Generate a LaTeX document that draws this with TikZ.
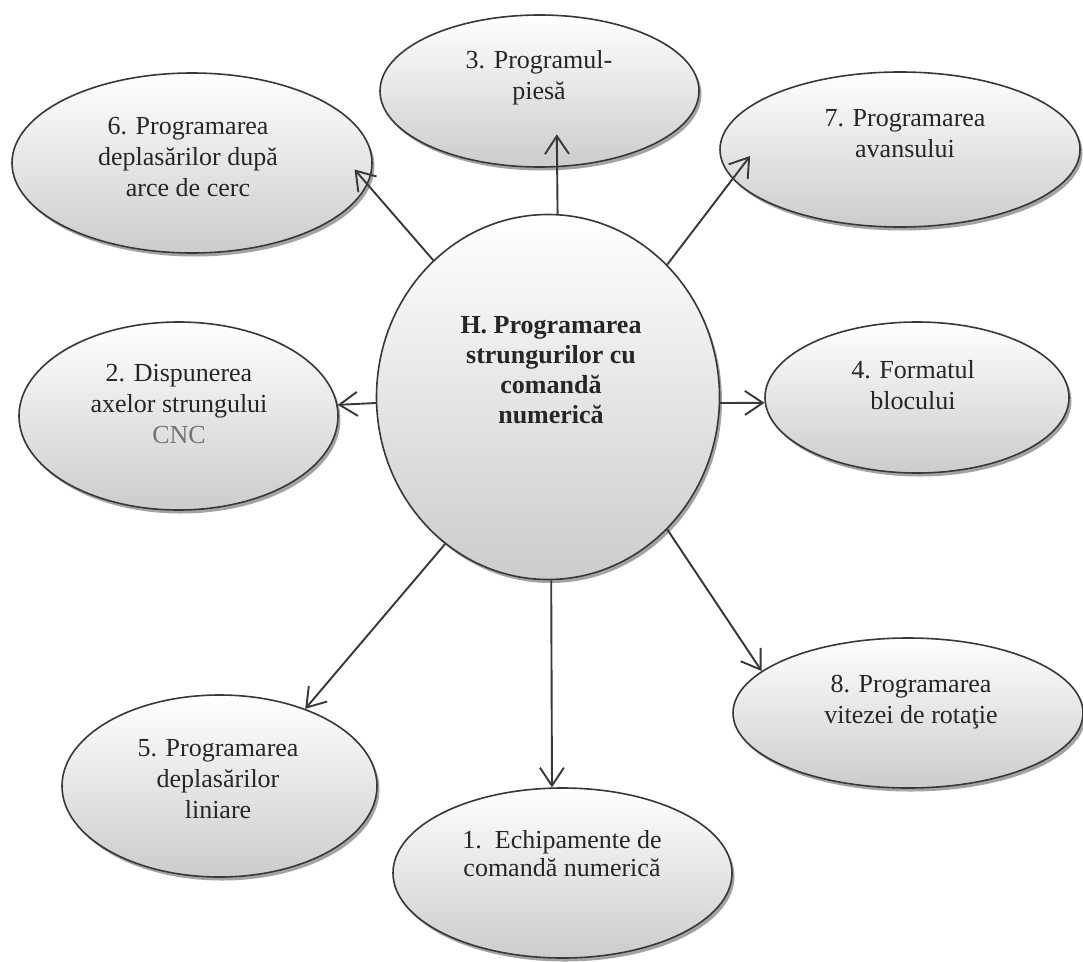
\documentclass[tikz,border=0pt]{standalone}
\usepackage{fontspec}
\setmainfont{Liberation Serif}
\usetikzlibrary{arrows.meta,shadows,shapes.geometric}
\begin{document}
\begin{tikzpicture}[x=1pt,y=-1pt,
  bub/.style={ellipse, draw=black!78, line width=1.6pt, top color=white, bottom color=black!20,
    drop shadow={shadow xshift=2.5pt, shadow yshift=-3.5pt, fill=black!60, opacity=0.6},
    inner sep=0pt},
  txt/.style={align=center, text=black!85, font=\fontsize{26}{31}\selectfont, inner sep=0pt},
  arr/.style={draw=black!78, line width=1.9pt, -{Straight Barb[length=18pt,width=24pt]}}]
\fill[white] (0,0) rectangle (1083,961);
\useasboundingbox (0,0) rectangle (1083,961);

\node[bub, minimum width=319pt, minimum height=152pt] (n3) at (539.5,91) {};
\node[bub, minimum width=360pt, minimum height=180pt] (n6) at (192,163) {};
\node[bub, minimum width=360pt, minimum height=155pt] (n7) at (900,149.5) {};
\node[bub, minimum width=343pt, minimum height=365pt] (H) at (548,397) {};
\node[bub, minimum width=319pt, minimum height=188pt] (n2) at (178.5,416) {};
\node[bub, minimum width=304pt, minimum height=151pt] (n4) at (917,397.5) {};
\node[bub, minimum width=350pt, minimum height=150pt] (n8) at (908,713) {};
\node[bub, minimum width=315pt, minimum height=182pt] (n5) at (219.5,786) {};
\node[bub, minimum width=339pt, minimum height=170pt] (n1) at (562.5,873) {};

\node[txt] (t3) at (539,78) {3. Programul-\\piesă};
\node[txt] (t6) at (188,157) {6. Programarea\\deplasărilor după\\arce de cerc};
\node[txt] (t7) at (905,134) {7. Programarea\\avansului};
\node[txt, font=\fontsize{26}{30}\selectfont\bfseries] (tH) at (551,370) {H. Programarea\\strungurilor cu\\comandă\\numerică};
\node[txt] (t2) at (179,404) {2. Dispunerea\\axelor strungului\\{\color{black!55}CNC}};
\node[txt] (t4) at (913,385) {4. Formatul\\blocului};
\node[txt] (t8) at (911,702) {8. Programarea\\vitezei de rotaţie};
\node[txt] (t5) at (218,779) {5. Programarea\\deplasărilor\\liniare};
\node[txt, font=\fontsize{26}{28}\selectfont] (t1) at (562,854) {1.\enspace Echipamente de\\comandă numerică};

\draw[arr, shorten >=-33pt] (H.87) -- (n3.-77);
\draw[arr, shorten >=-20pt] (H.130) -- (n6.-7);
\draw[arr, shorten >=-29pt] (H.48) -- (n7.190);
\draw[arr] (H.182) -- (n2.4);
\draw[arr] (H.358) -- (n4.182.5);
\draw[arr] (H.-48) -- (n8.164);
\draw[arr] (H.235.5) -- (n5.42);
\draw[arr] (H.271) -- (n1.97);
\end{tikzpicture}
\end{document}
